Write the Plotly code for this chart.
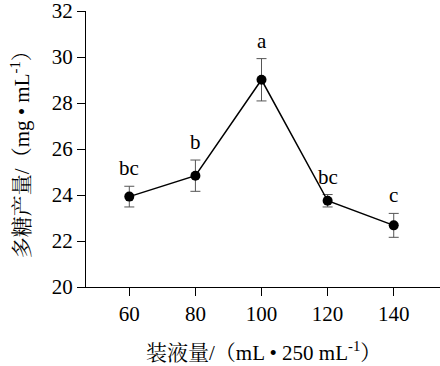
import plotly.graph_objects as go

volumes = [60, 80, 100, 120, 140]
yield_vals = [23.93, 24.84, 29.01, 23.75, 22.68]
errors = [0.45, 0.68, 0.92, 0.27, 0.52]
letters = ["bc", "b", "a", "bc", "c"]
x_ticks = [60, 80, 100, 120, 140]
y_ticks = [20, 22, 24, 26, 28, 30, 32]
x_title = "装液量/（mL • 250 mL<sup>-1</sup>）"
y_title = "多糖产量/（mg • mL<sup>-1</sup>）"

FONT = "Liberation Serif, Times New Roman, Noto Serif CJK SC, Noto Sans CJK SC, serif"

fig = go.Figure()
fig.add_trace(go.Scatter(
    x=volumes, y=yield_vals, mode="lines+markers",
    line=dict(color="black", width=1.5),
    marker=dict(color="black", size=10),
    error_y=dict(type="data", array=errors, visible=True, color="#555555", thickness=1, width=5),
    showlegend=False, cliponaxis=False,
))

for xv, yv, ev, lab in zip(volumes, yield_vals, errors, letters):
    fig.add_annotation(x=xv, y=yv + ev, text=lab, showarrow=False,
                       yanchor="bottom", yshift=4,
                       font=dict(family=FONT, size=21, color="black"))

fig.add_annotation(xref="paper", yref="paper", x=0.5, y=-0.2355, text=x_title,
                   showarrow=False, xanchor="center", yanchor="middle",
                   font=dict(family=FONT, size=21, color="black"))
fig.add_annotation(xref="paper", yref="paper", x=-0.186, y=0.5, text=y_title,
                   showarrow=False, xanchor="center", yanchor="middle", textangle=-90,
                   font=dict(family=FONT, size=21, color="black"))

fig.update_layout(
    width=440, height=366,
    margin=dict(l=86, r=0, t=11, b=79),
    plot_bgcolor="white", paper_bgcolor="white",
    font=dict(family=FONT, color="black"),
)
fig.update_xaxes(
    range=[46.9, 154.0], tickvals=x_ticks, ticktext=[str(v) for v in x_ticks],
    showline=True, linecolor="black", linewidth=1.2, ticks="outside", ticklen=8,
    tickcolor="black", showgrid=False, zeroline=False, automargin=False,
    tickfont=dict(family=FONT, size=21), ticklabeloverflow="allow",
)
fig.update_yaxes(
    range=[20, 32], tickvals=y_ticks,
    showline=True, linecolor="black", linewidth=1.2, ticks="outside", ticklen=8,
    tickcolor="black", showgrid=False, zeroline=False, automargin=False,
    tickfont=dict(family=FONT, size=21), ticklabeloverflow="allow",
)

fig.write_html("out.html", config={"displayModeBar": False},
               post_script="document.body.style.margin='0';document.body.style.overflow='hidden';")
